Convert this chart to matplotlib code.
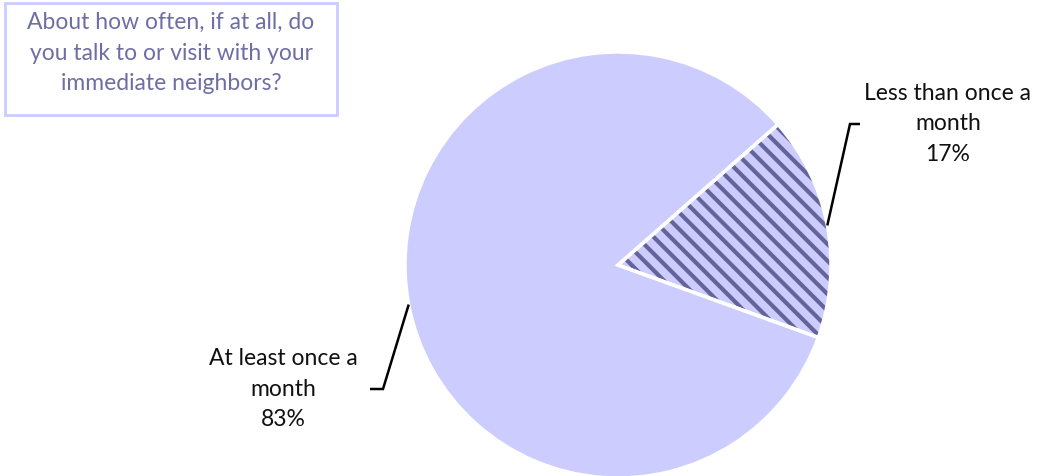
import matplotlib.pyplot as plt
import numpy as np

labels = ["Less than once a\nmonth\n17%", "At least once a\nmonth\n83%"]
values = [17, 83]
title = "About how often, if at all, do\nyou talk to or visit with your\nimmediate neighbors?"

plt.rcParams['font.family'] = ['Lato', 'DejaVu Sans']
plt.rcParams['hatch.linewidth'] = 3.0

fig = plt.figure(figsize=(10.4, 4.76), dpi=100)
ax = fig.add_axes([0, 0, 1, 1])

center = (618, 211)
radius = 213
start = 41.3

wedges, _ = ax.pie(values, center=center, radius=radius, startangle=start,
                   counterclock=False, colors=['#CCCCFF', '#CCCCFF'],
                   wedgeprops=dict(linewidth=0), frame=True)
wedges[0].set_hatch('\\\\')
wedges[0].set_edgecolor('#64649A')
wedges[0].set_linewidth(0)
# white separator lines on top
ax.pie(values, center=center, radius=radius, startangle=start, counterclock=False,
       colors=['none', 'none'], wedgeprops=dict(linewidth=2.5, edgecolor='white'), frame=True)
ax.set_xlim(0, 1040)
ax.set_ylim(0, 476)
ax.axis('off')

# labels with leader lines
label_pos = [(948, 352), (283, 87)]
elbow = [(850, 352), (383, 87)]
tail = [(860, 352), (370, 87)]
for w, lab, lp, el, tl in zip(wedges, labels, label_pos, elbow, tail):
    mid = np.deg2rad((w.theta1 + w.theta2) / 2)
    x0 = center[0] + radius * np.cos(mid)
    y0 = center[1] + radius * np.sin(mid)
    ax.plot([x0, el[0], tl[0]], [y0, el[1], tl[1]], color='black', lw=1.8,
            solid_capstyle='butt', solid_joinstyle='miter')
    ax.text(lp[0], lp[1], lab, ha='center', va='center', fontsize=16.5,
            linespacing=1.58, color='#111111')

# title box
ax.add_patch(plt.Rectangle((5, 476 - 115), 332, 112, facecolor='white',
                           edgecolor='#CCCCFF', lw=2))
ax.text(171, 423, title, ha='center', va='center', fontsize=16.5,
        linespacing=1.58, color='#6E6EA6')

plt.savefig('out.png', dpi=100)
